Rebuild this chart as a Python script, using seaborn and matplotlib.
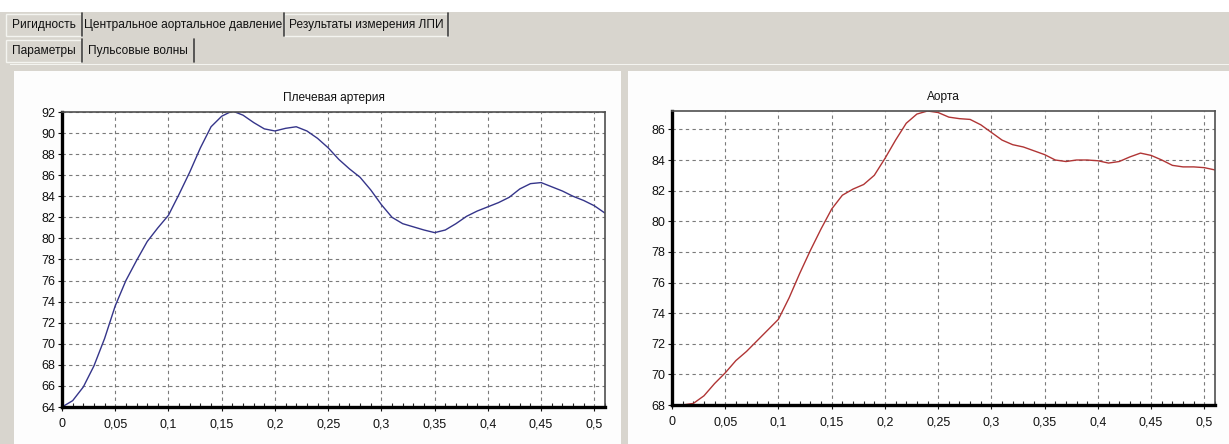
import numpy as np
import pandas as pd
import matplotlib
matplotlib.use('Agg')
import matplotlib.pyplot as plt
from matplotlib.patches import Rectangle
from matplotlib.lines import Line2D
from matplotlib.ticker import MultipleLocator, FuncFormatter
import seaborn as sns

# time axis (s)
t = [0.00, 0.01, 0.02, 0.03, 0.04, 0.05, 0.06, 0.07, 0.08, 0.09,
     0.10, 0.11, 0.12, 0.13, 0.14, 0.15, 0.16, 0.17, 0.18, 0.19,
     0.20, 0.21, 0.22, 0.23, 0.24, 0.25, 0.26, 0.27, 0.28, 0.29,
     0.30, 0.31, 0.32, 0.33, 0.34, 0.35, 0.36, 0.37, 0.38, 0.39,
     0.40, 0.41, 0.42, 0.43, 0.44, 0.45, 0.46, 0.47, 0.48, 0.49,
     0.50, 0.51]

# brachial artery pressure
brachial = [64.0, 64.6, 65.9, 67.9, 70.5, 73.6, 76.0, 77.9, 79.7, 81.0,
            82.2, 84.2, 86.3, 88.6, 90.6, 91.6, 92.1, 91.7, 91.0, 90.4,
            90.2, 90.45, 90.6, 90.2, 89.5, 88.6, 87.5, 86.6, 85.8, 84.6,
            83.2, 82.0, 81.4, 81.1, 80.8, 80.55, 80.8, 81.4, 82.1, 82.6,
            83.0, 83.4, 83.9, 84.7, 85.2, 85.3, 84.9, 84.5, 84.0, 83.6,
            83.1, 82.4]

# aortic pressure
aorta = [68.0, 68.0, 68.1, 68.6, 69.4, 70.1, 70.9, 71.5, 72.2, 72.9,
         73.6, 75.0, 76.6, 78.1, 79.5, 80.8, 81.7, 82.1, 82.4, 83.0,
         84.1, 85.3, 86.4, 87.0, 87.2, 87.1, 86.8, 86.7, 86.65, 86.3,
         85.8, 85.3, 85.0, 84.85, 84.6, 84.35, 84.0, 83.9, 84.0, 84.0,
         83.95, 83.8, 83.9, 84.2, 84.45, 84.3, 84.0, 83.65, 83.55, 83.55,
         83.5, 83.35]

top_tabs = ['Ригидность', 'Центральное аортальное давление', 'Результаты измерения ЛПИ']
sub_tabs = ['Параметры', 'Пульсовые волны']
titles = ['Плечевая артерия', 'Аорта']

df = pd.DataFrame({'t': t, 'brachial': brachial, 'aorta': aorta})

sns.set_style('white')
plt.rcParams['font.family'] = ['Liberation Sans', 'DejaVu Sans']

W, H = 1229, 444
BG = '#d8d5ce'
fig = plt.figure(figsize=(W / 100, H / 100), dpi=100, facecolor=BG)


def px_rect(x, y, w, h, **kw):
    # rectangle in pixel coords measured from the top-left corner
    fig.patches.append(Rectangle((x / W, 1 - (y + h) / H), w / W, h / H,
                                 transform=fig.transFigure, zorder=-5, **kw))


def px_vline(x, y0, y1, color):
    fig.lines.append(Line2D([x / W, x / W], [1 - y0 / H, 1 - y1 / H],
                            transform=fig.transFigure, color=color, lw=1.2))


# white strip above the tabs
px_rect(0, 0, W, 12, facecolor='white', edgecolor='none')

# tab strip
tab_x = [6, 82, 284]
tab_w = [76, 202, 164]
for i, name in enumerate(top_tabs):
    sel = i == 1
    if not sel:
        px_rect(tab_x[i], 14, tab_w[i], 22, facecolor=BG, edgecolor='#f4f4f0', lw=1.0)
    px_vline(tab_x[i] + tab_w[i], 13, 36, '#404040')
    fig.text((tab_x[i] + tab_w[i] / 2) / W, 1 - 25 / H, name, ha='center', va='center',
             fontsize=8.6, color='#111111')
sub_x = [6, 82]
sub_w = [76, 112]
for i, name in enumerate(sub_tabs):
    sel = i == 1
    if not sel:
        px_rect(sub_x[i], 40, sub_w[i], 22, facecolor=BG, edgecolor='#f4f4f0', lw=1.0)
    px_vline(sub_x[i] + sub_w[i], 39, 62, '#404040')
    fig.text((sub_x[i] + sub_w[i] / 2) / W, 1 - 51 / H, name, ha='center', va='center',
             fontsize=8.6, color='#111111')

# white panels on the grey form
px_rect(10, 64, 1219, 1, facecolor='#f4f4f0', edgecolor='none')
px_rect(14, 71, 607, 373, facecolor='#fdfdfd', edgecolor='none')
px_rect(628, 71, 601, 373, facecolor='#fdfdfd', edgecolor='none')

panels = [
    ([62 / W, 1 - 407 / H, 543 / W, 295 / H], 'brachial', '#35358a', (64, 92)),
    ([672 / W, 1 - 405 / H, 543 / W, 294 / H], 'aorta', '#b03535', (68, 87.2)),
]

comma = FuncFormatter(lambda v, p: ('%g' % round(v, 3)).replace('.', ','))

for (rect, col, color, ylim), title in zip(panels, titles):
    ax = fig.add_axes(rect)
    ax.set_facecolor('white')
    sns.lineplot(data=df, x='t', y=col, color=color, linewidth=1.0, ax=ax)
    ax.set_xlim(0, 0.51)
    ax.set_ylim(*ylim)
    ax.xaxis.set_major_locator(MultipleLocator(0.05))
    ax.xaxis.set_minor_locator(MultipleLocator(0.01))
    ax.yaxis.set_major_locator(MultipleLocator(2))
    ax.xaxis.set_major_formatter(comma)
    ax.grid(True, which='major', color='#7a7a7a', linestyle=(0, (3, 3)), linewidth=0.8)
    ax.set_axisbelow(True)
    ax.set_xlabel('')
    ax.set_ylabel('')
    for s in ['left', 'bottom']:
        ax.spines[s].set_color('black')
        ax.spines[s].set_linewidth(2.4)
    for s in ['top', 'right']:
        ax.spines[s].set_color('#505050')
        ax.spines[s].set_linewidth(1.2)
    ax.tick_params(axis='both', which='major', direction='out', length=3, width=0.8,
                   labelsize=9, colors='#111111', pad=2)
    ax.tick_params(axis='x', which='minor', direction='in', length=3, width=0.8,
                   bottom=True)
    ax.tick_params(axis='x', which='major', bottom=True, pad=5)
    ax.tick_params(axis='y', which='major', left=True)
    ax.set_title(title, fontsize=8.6, color='#111111', pad=8)

fig.savefig('out.png', dpi=100, facecolor=fig.get_facecolor())
